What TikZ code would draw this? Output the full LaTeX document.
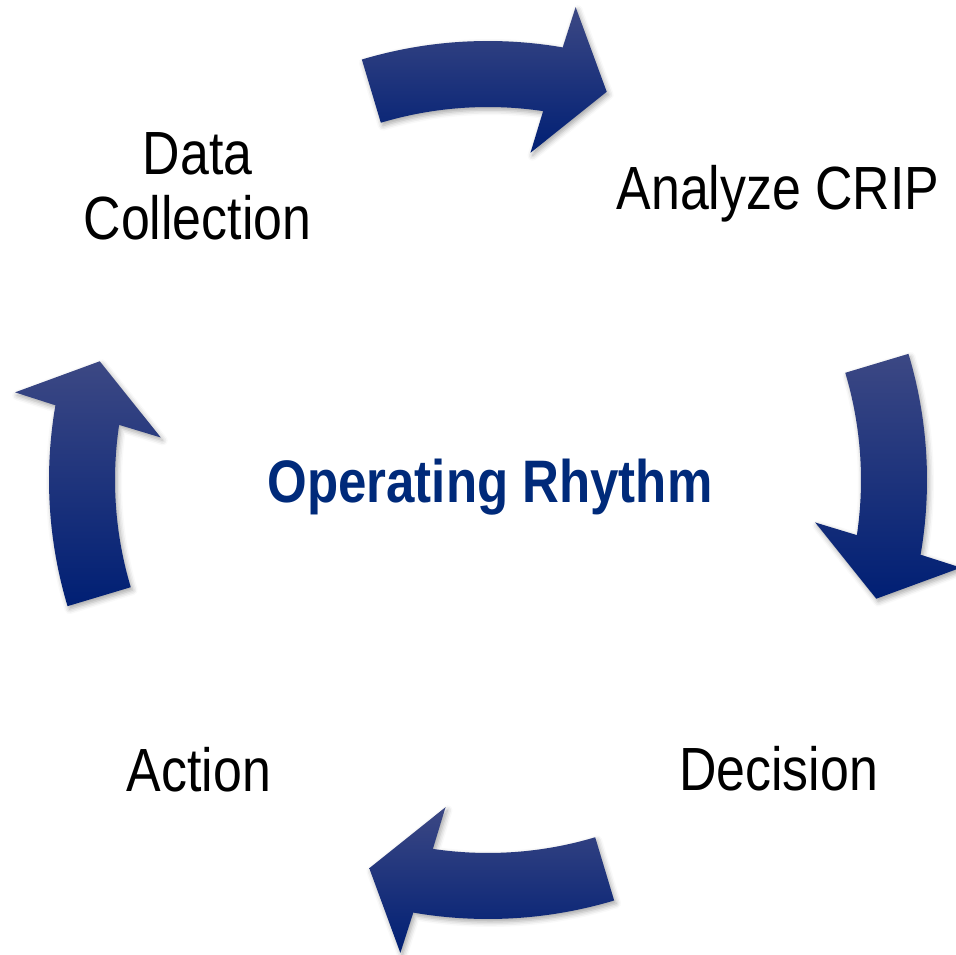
\documentclass[tikz,border=0pt]{standalone}
\usepackage{fontspec}
\setmainfont[FakeStretch=0.85]{Liberation Sans}
\usetikzlibrary{shadows.blur}

\definecolor{arrowtop}{RGB}{60,72,132}
\definecolor{arrownavy}{RGB}{0,31,116}
\definecolor{rhythmblue}{RGB}{0,42,122}

\tikzset{
	steplabel/.style={font=\fontsize{61}{65}\selectfont, align=center, anchor=base},
	cyclearrow/.style={top color=arrowtop, middle color=arrownavy, bottom color=arrownavy,
		blur shadow={shadow xshift=2pt, shadow yshift=-3pt, shadow blur radius=5pt, shadow opacity=35}},
}

\begin{document}
\begin{tikzpicture}[x=1pt,y=1pt]
	\useasboundingbox (0,0) rectangle (956,954);
	% four curved arrows round the middle, a quarter turn apart
	\begin{scope}[shift={(488,474)}]
	\foreach \a in {106.7,16.7,-73.3,-163.3}
		\path[cyclearrow] (\a:439) arc[start angle=\a, end angle=\a-26.5, radius=439]
			-- (\a-27.2:481) -- (\a-33.7:406) -- (\a-24.1:330) -- (\a-25.2:373)
			arc[start angle=\a-25.2, end angle=\a, radius=373] -- cycle;
	\end{scope}
	% base of a two line node sits on its last line
	\node[steplabel] (collect) at (197.5,714) {Data\\Collection};
	\node[steplabel] (analyze) at (778,744) {Analyze CRIP};
	\node[steplabel] (decide) at (778.5,164) {Decision};
	\node[steplabel] (act) at (199,163) {Action};
	\node[steplabel, font=\fontsize{60}{64}\selectfont\bfseries, text=rhythmblue] (rhythm) at (490,451) {Operating Rhythm};
\end{tikzpicture}
\end{document}
